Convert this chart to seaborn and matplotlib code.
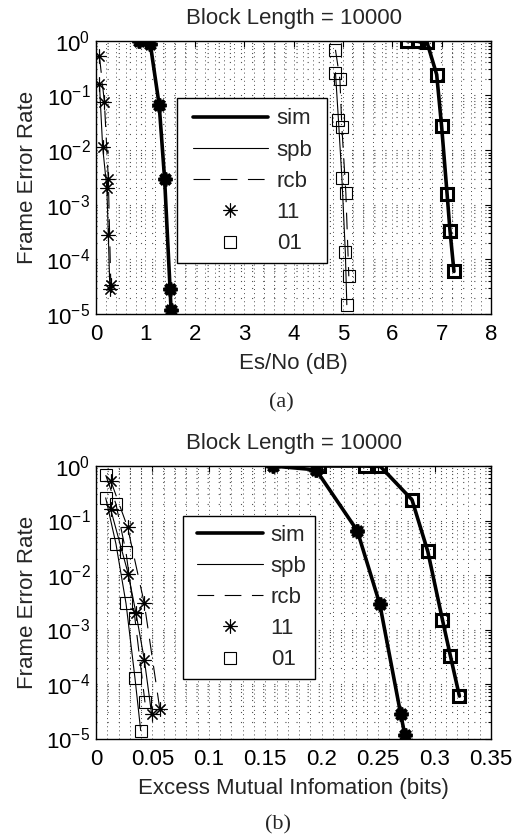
import numpy as np
import pandas as pd
import matplotlib
matplotlib.use("Agg")
import matplotlib.pyplot as plt
import seaborn as sns
from matplotlib.lines import Line2D
from matplotlib.patches import Rectangle
from matplotlib.ticker import LogLocator, MultipleLocator, NullFormatter, LogFormatterSciNotation

# ---------------- data ----------------
title_text = "Block Length = 10000"
ylabel_text = "Frame Error Rate"
xlabel_a = "Es/No (dB)"
xlabel_b = "Excess Mutual Infomation (bits)"
legend_labels = ["sim", "spb", "rcb", "11", "01"]

# panel (a): Es/No (dB)
a_sim11_x = [0.87, 1.10, 1.28, 1.39, 1.50, 1.52]
a_sim11_y = [1.0, 0.87, 0.066, 0.0029, 2.9e-5, 1.2e-5]
a_sim01_x = [6.30, 6.53, 6.70, 6.90, 7.00, 7.11, 7.17, 7.25]
a_sim01_y = [1.0, 0.97, 0.96, 0.24, 0.027, 0.0016, 3.3e-4, 6.0e-5]
a_spb11_x = [0.07, 0.135, 0.22, 0.25, 0.28]
a_spb11_y = [0.16, 0.0112, 0.0020, 2.8e-4, 2.9e-5]
a_rcb11_x = [0.07, 0.17, 0.25, 0.30]
a_rcb11_y = [0.52, 0.075, 0.0029, 3.4e-5]
a_spb01_x = [4.85, 4.91, 4.98, 5.05, 5.08]
a_spb01_y = [0.26, 0.036, 0.0031, 1.34e-4, 1.48e-5]
a_rcb01_x = [4.85, 4.94, 4.98, 5.06, 5.12]
a_rcb01_y = [0.68, 0.196, 0.026, 0.00166, 4.9e-5]

# panel (b): excess mutual information (bits)
b_sim11_x = [0.1565, 0.195, 0.2315, 0.2515, 0.270, 0.2737]
b_sim11_y = [1.0, 0.85, 0.065, 0.0029, 2.8e-5, 1.15e-5]
b_sim01_x = [0.198, 0.238, 0.252, 0.280, 0.294, 0.307, 0.314, 0.322]
b_sim01_y = [1.0, 1.0, 0.98, 0.24, 0.027, 0.0015, 3.3e-4, 6.0e-5]
b_spb11_x = [0.013, 0.0286, 0.0354, 0.0428, 0.0493]
b_spb11_y = [0.16, 0.0104, 0.0020, 2.8e-4, 2.8e-5]
b_rcb11_x = [0.013, 0.028, 0.0428, 0.0565]
b_rcb11_y = [0.54, 0.075, 0.0030, 3.5e-5]
b_spb01_x = [0.0086, 0.0177, 0.0266, 0.0345, 0.0396]
b_spb01_y = [0.26, 0.037, 0.0030, 1.3e-4, 1.4e-5]
b_rcb01_x = [0.0086, 0.0177, 0.0266, 0.0345, 0.0434]
b_rcb01_y = [0.68, 0.20, 0.026, 0.0016, 4.6e-5]

# ---------------- style ----------------
sns.set_style("white")
plt.rcParams["font.family"] = ["Liberation Sans", "DejaVu Sans"]
plt.rcParams["mathtext.fontset"] = "custom"
plt.rcParams["mathtext.rm"] = "Liberation Sans"
plt.rcParams["mathtext.it"] = "Liberation Sans:italic"
plt.rcParams["mathtext.default"] = "regular"
FS = 16

STAR = (8, 2, 0)
DASH = (0, (15, 9.5))
W = 519
H = 836
fig = plt.figure(figsize=(W / 100, H / 100), dpi=100)

def ax_rect(left, top, right, bottom):
    return [left / W, 1 - bottom / H, (right - left) / W, (bottom - top) / H]

ax_a = fig.add_axes(ax_rect(96, 40.7, 491, 314))
ax_b = fig.add_axes(ax_rect(96, 466, 491, 738.5))

thick_star = dict(color="k", lw=2.6, mec="k", mew=2.6, ms=10)
thick_sq = dict(color="k", lw=2.6, mec="k", mew=2.2, ms=8.5)
thin_star = dict(color="k", lw=0.8, mec="k", mew=0.8, ms=10)
thin_sq = dict(color="k", lw=0.8, mec="k", mew=0.8, ms=8)

def draw(ax, sim11, sim01, spb11, rcb11, spb01, rcb01):
    ax.set_yscale("log")
    for (x, y), ls in [(spb11, "-"), (rcb11, DASH)]:
        sns.lineplot(x=x, y=y, ax=ax, sort=False, estimator=None, ls=ls,
                     marker=STAR, mfc="k", **thin_star)
    for (x, y), ls in [(spb01, "-"), (rcb01, DASH)]:
        sns.lineplot(x=x, y=y, ax=ax, sort=False, estimator=None, ls=ls,
                     marker="s", mfc="none", **thin_sq)
    sns.lineplot(x=sim11[0], y=sim11[1], ax=ax, sort=False, estimator=None, ls="-",
                 marker=STAR, mfc="k", **thick_star)
    sns.lineplot(x=sim01[0], y=sim01[1], ax=ax, sort=False, estimator=None, ls="-",
                 marker="s", mfc="none", **thick_sq)

draw(ax_a, (a_sim11_x, a_sim11_y), (a_sim01_x, a_sim01_y), (a_spb11_x, a_spb11_y),
     (a_rcb11_x, a_rcb11_y), (a_spb01_x, a_spb01_y), (a_rcb01_x, a_rcb01_y))
draw(ax_b, (b_sim11_x, b_sim11_y), (b_sim01_x, b_sim01_y), (b_spb11_x, b_spb11_y),
     (b_rcb11_x, b_rcb11_y), (b_spb01_x, b_spb01_y), (b_rcb01_x, b_rcb01_y))

for ax, xmax, major, minor, xl in [(ax_a, 8, 1, 0.2, xlabel_a), (ax_b, 0.35, 0.05, 0.01, xlabel_b)]:
    ax.set_xlim(0, xmax)
    ax.set_ylim(1e-5, 1)
    ax.xaxis.set_major_locator(MultipleLocator(major))
    ax.xaxis.set_minor_locator(MultipleLocator(minor))
    ax.yaxis.set_major_locator(LogLocator(base=10, numticks=10))
    ax.yaxis.set_minor_locator(LogLocator(base=10, subs=np.arange(2, 10), numticks=20))
    ax.yaxis.set_minor_formatter(NullFormatter())
    ax.yaxis.set_major_formatter(LogFormatterSciNotation())
    if xmax == 8:
        ax.set_xticks(np.arange(0, 9))
        ax.set_xticklabels([str(int(v)) for v in np.arange(0, 9)])
    else:
        ticks = np.round(np.arange(0, 0.351, 0.05), 2)
        ax.set_xticks(ticks)
        ax.set_xticklabels(["0"] + [("%g" % t) for t in ticks[1:]])
    ax.grid(True, axis="x", which="both", color="0.3", linestyle=(0, (1, 3.2)), linewidth=0.7)
    ax.grid(True, axis="y", which="both", color="0.3", linestyle=(0, (1, 9)), linewidth=0.8)
    ax.tick_params(which="both", direction="in", top=True, right=True, colors="k",
                   labelsize=FS, width=0.8)
    ax.tick_params(which="major", length=4.5, pad=7.5)
    ax.tick_params(axis="y", which="major", pad=4)
    ax.tick_params(axis="y", which="minor", length=2.5)
    ax.tick_params(axis="x", which="minor", length=0)
    for s in ax.spines.values():
        s.set_visible(True)
        s.set_color("k")
        s.set_linewidth(1.0)
    ax.set_title(title_text, fontsize=FS, pad=12)
    ax.set_xlabel(xl, fontsize=FS, labelpad=5.5)
    ax.set_ylabel(ylabel_text, fontsize=FS, labelpad=6)

handles = [
    Line2D([], [], color="k", lw=2.6),
    Line2D([], [], color="k", lw=0.8),
    Line2D([], [], color="k", lw=0.8, ls=DASH),
    Line2D([], [], color="k", ls="none", marker=STAR, ms=10, mew=0.8, mfc="k", mec="k"),
    Line2D([], [], color="k", ls="none", marker="s", ms=8, mew=0.8, mfc="none", mec="k"),
]

# legend box (frame) and legend content positions in pixels
legend_specs = [
    (ax_a, (177.3, 98.3, 326.7, 263.3), (192.7, 108.5), 3.4, 0.38),
    (ax_b, (182.7, 516.0, 315.0, 679.3), (196.7, 524.6), 3.0, 0.33),
]
for ax, (bx0, by0, bx1, by1), (lx, ly), hl, tp in legend_specs:
    rect = Rectangle((bx0 / W, 1 - by1 / H), (bx1 - bx0) / W, (by1 - by0) / H,
                     transform=fig.transFigure, facecolor="white", edgecolor="k",
                     linewidth=1.0, zorder=4.9, clip_on=False)
    ax.add_patch(rect)
    leg = ax.legend(handles, legend_labels, loc="upper left",
                    bbox_to_anchor=(lx / W, 1 - ly / H), bbox_transform=fig.transFigure,
                    borderaxespad=0, frameon=False, handlelength=hl, handletextpad=tp,
                    borderpad=0, labelspacing=0.46, fontsize=FS, numpoints=1)
    leg.set_zorder(5)

fig.text(281 / W, 1 - 403 / H, "(a)", ha="center", va="center", fontsize=FS,
         family=["Liberation Serif", "DejaVu Serif"])
fig.text(278 / W, 1 - 825 / H, "(b)", ha="center", va="center", fontsize=FS,
         family=["Liberation Serif", "DejaVu Serif"])

fig.savefig("out.png", dpi=100, facecolor="white")
